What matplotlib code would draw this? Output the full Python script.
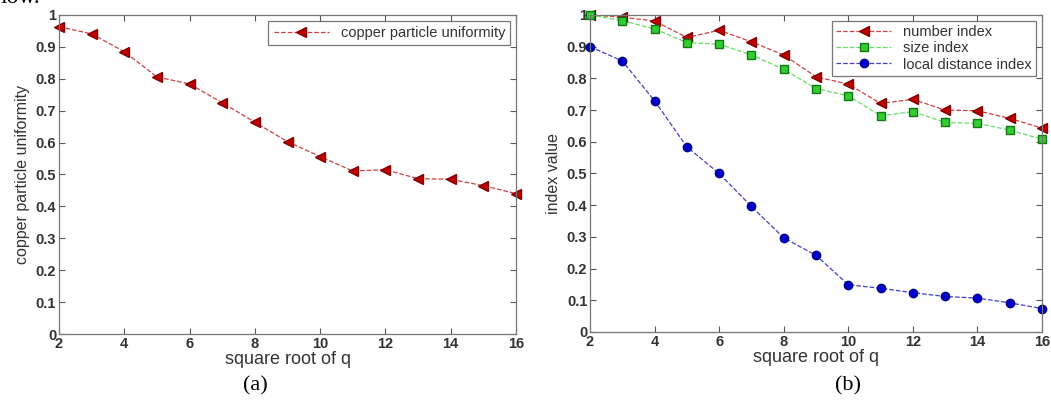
import matplotlib.pyplot as plt

# x values shared by both panels
q_root = [2, 3, 4, 5, 6, 7, 8, 9, 10, 11, 12, 13, 14, 15, 16]

# panel (a)
uniformity = [0.963, 0.941, 0.885, 0.806, 0.784, 0.725, 0.664, 0.603, 0.556,
              0.511, 0.515, 0.487, 0.485, 0.465, 0.440]

# panel (b)
number_index = [1.0, 0.993, 0.981, 0.929, 0.952, 0.915, 0.874, 0.805, 0.782,
                0.721, 0.734, 0.700, 0.698, 0.674, 0.643]
size_index = [1.0, 0.982, 0.956, 0.913, 0.908, 0.874, 0.829, 0.768, 0.745,
              0.682, 0.695, 0.661, 0.658, 0.637, 0.608]
local_index = [0.900, 0.855, 0.729, 0.584, 0.500, 0.396, 0.297, 0.242, 0.149,
               0.138, 0.124, 0.112, 0.107, 0.092, 0.074]

xticks = [2, 4, 6, 8, 10, 12, 14, 16]
yticks = [0, 0.1, 0.2, 0.3, 0.4, 0.5, 0.6, 0.7, 0.8, 0.9, 1]
yticklabels = ['0', '0.1', '0.2', '0.3', '0.4', '0.5', '0.6', '0.7', '0.8', '0.9', '1']

plt.rcParams['font.family'] = 'Liberation Sans'
txt = '#333333'

fig = plt.figure(figsize=(10.51, 4.03), dpi=100)
ax1 = fig.add_axes([0.0561, 0.1712, 0.4349, 0.7916])
ax2 = fig.add_axes([0.5614, 0.1762, 0.4300, 0.7866])

def style(ax, ylabel):
    ax.set_xlim(2, 16)
    ax.set_ylim(0, 1)
    ax.set_xticks(xticks)
    ax.set_yticks(yticks)
    ax.set_yticklabels(yticklabels)
    ax.tick_params(direction='in', top=True, right=True, length=4, width=0.8,
                   colors='#555555', labelcolor=txt, labelsize=10.5, pad=2)
    for lbl in ax.get_xticklabels() + ax.get_yticklabels():
        lbl.set_fontweight('bold')
    for s in ax.spines.values():
        s.set_color('#777777')
        s.set_linewidth(0.9)
    ax.set_xlabel('square root of q', fontsize=13, color=txt, labelpad=0)
    ax.set_ylabel(ylabel, fontsize=11.5, color=txt, labelpad=4)

def style_legend(leg):
    leg.get_frame().set_edgecolor('#555555')
    leg.get_frame().set_linewidth(0.9)
    for t in leg.get_texts():
        t.set_color(txt)

ax1.plot(q_root, uniformity, linestyle='--', linewidth=0.9, color='#d04040',
         marker='<', markersize=6.5, markerfacecolor='#c00000', markeredgecolor='#800000',
         label='copper particle uniformity', clip_on=False)
style(ax1, 'copper particle uniformity')
leg1 = ax1.legend(loc='upper right', fontsize=10.5, frameon=True, fancybox=False,
                  borderpad=0.35, handlelength=3.8, borderaxespad=0.4)
style_legend(leg1)

ax2.plot(q_root, number_index, linestyle='--', linewidth=0.9, color='#d04040',
         marker='<', markersize=6.5, markerfacecolor='#c00000', markeredgecolor='#800000',
         label='number index', clip_on=False)
ax2.plot(q_root, size_index, linestyle='--', linewidth=0.9, color='#66dd66',
         marker='s', markersize=5.5, markerfacecolor='#33cc33', markeredgecolor='#117711',
         label='size index', clip_on=False)
ax2.plot(q_root, local_index, linestyle='--', linewidth=0.9, color='#4040c0',
         marker='o', markersize=6, markerfacecolor='#0000cc', markeredgecolor='#000088',
         label='local distance index', clip_on=False)
style(ax2, 'index value')
leg2 = ax2.legend(loc='upper right', fontsize=10.5, frameon=True, fancybox=False,
                  borderpad=0.3, handlelength=3.8, labelspacing=0.15, borderaxespad=0.4)
style_legend(leg2)

# panel captions and the cut-off text from the page above
fig.text(0.243, 0.042, '(a)', fontsize=16, family='Liberation Serif', ha='center', va='center')
fig.text(0.807, 0.042, '(b)', fontsize=16, family='Liberation Serif', ha='center', va='center')
fig.text(0.0, 1.005, 'low.', fontsize=17, family='Liberation Serif', ha='left', va='center')

fig.savefig('out.png', dpi=100)
